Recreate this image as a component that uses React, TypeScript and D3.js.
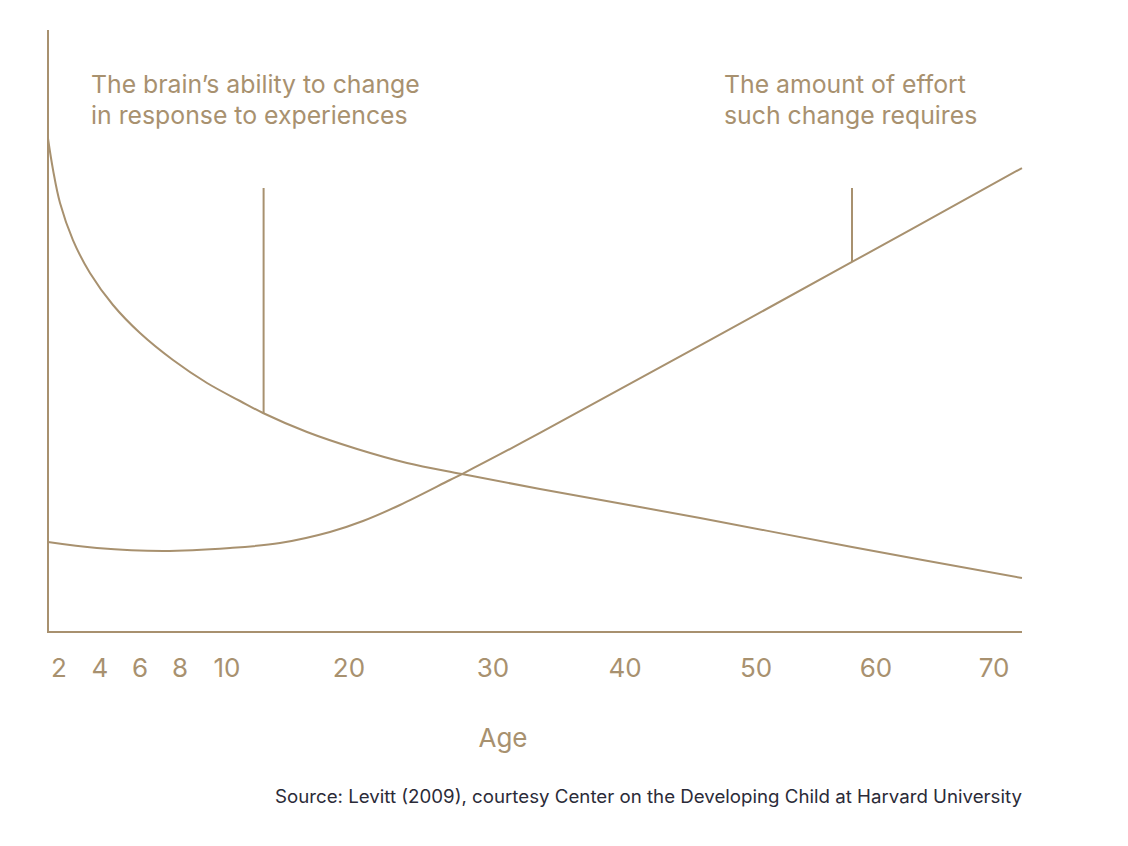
import React, { useEffect, useRef } from 'react';
import * as d3 from 'd3';

// Age ticks and where each sits along the (hand-drawn, uneven) age axis, px from axis start
const tickAges = [2, 4, 6, 8, 10, 20, 30, 40, 50, 60, 70];
const tickOffsets = [11, 52, 92, 132, 179, 301, 445, 577, 708, 828, 946];

// [age, relative level 0-100]
const plasticity: [number, number][] = [
  [1.46, 82.33], [1.71, 77.0], [2.05, 71.5], [2.68, 65.33], [3.51, 59.83], [4.65, 54.5],
  [6.0, 49.83], [7.65, 45.33], [9.15, 41.5], [11.07, 38.5], [12.95, 36.5], [16.56, 33.33],
  [20.56, 30.5], [24.03, 28.17], [27.85, 26.33], [33.56, 23.83], [45.73, 19.0], [58, 14.17],
  [72.37, 9.0],
];

const effort: [number, number][] = [
  [1.46, 15.0], [3.85, 14.0], [7.15, 13.5], [10.25, 14.0], [14.34, 14.83], [18.44, 16.67],
  [20.97, 18.5], [23.54, 21.17], [27.01, 25.33], [27.85, 26.33], [33.56, 33.17], [58, 61.67],
  [72.37, 77.33],
];

const annotations = [
  { age: 13, from: 74, series: plasticity, lines: ['The brain\u2019s ability to change', 'in response to experiences'], tx: 91 },
  { age: 58, from: 74, series: effort, lines: ['The amount of effort', 'such change requires'], tx: 724 },
];

const COLOR = '#a8916f';

const App: React.FC = () => {
  const svgRef = useRef<SVGSVGElement>(null);

  useEffect(() => {
    if (!svgRef.current) return;
    const svg = d3.select(svgRef.current);
    svg.selectAll('*').remove();

    const left = 48, right = 1022, top = 30, bottom = 632;

    const x = d3.scaleLinear()
      .domain(tickAges)
      .range(tickOffsets.map(o => left + o));
    const y = d3.scaleLinear().domain([0, 100]).range([bottom, bottom - 600]);

    const font = 'Inter, "Noto Sans", sans-serif';

    // axes
    svg.append('line')
      .attr('x1', left).attr('x2', left).attr('y1', top).attr('y2', bottom + 1)
      .attr('stroke', COLOR).attr('stroke-width', 2);
    svg.append('line')
      .attr('x1', left - 1).attr('x2', right).attr('y1', bottom).attr('y2', bottom)
      .attr('stroke', COLOR).attr('stroke-width', 2);

    svg.append('g')
      .selectAll('text')
      .data(tickAges)
      .enter().append('text')
      .attr('x', d => x(d))
      .attr('y', 677)
      .attr('text-anchor', 'middle')
      .style('font-family', font)
      .style('font-size', '26px')
      .style('fill', COLOR)
      .text(d => String(d));

    svg.append('text')
      .attr('x', 503).attr('y', 747)
      .attr('text-anchor', 'middle')
      .style('font-family', font)
      .style('font-size', '26px')
      .style('fill', COLOR)
      .text('Age');

    const line = d3.line<[number, number]>()
      .x(d => x(d[0]))
      .y(d => y(d[1]))
      .curve(d3.curveCatmullRom.alpha(0.5));

    [plasticity, effort].forEach(s => {
      svg.append('path')
        .datum(s)
        .attr('fill', 'none')
        .attr('stroke', COLOR)
        .attr('stroke-width', 2)
        .attr('d', line);
    });

    // annotation pointers + labels
    const bisect = d3.bisector((d: [number, number]) => d[0]).left;
    annotations.forEach(a => {
      const ax = x(a.age);
      const i = bisect(a.series, a.age);
      const p0 = a.series[i - 1], p1 = a.series[i];
      const t = (a.age - p0[0]) / (p1[0] - p0[0]);
      const v = p0[1] + t * (p1[1] - p0[1]);
      svg.append('line')
        .attr('x1', ax).attr('x2', ax)
        .attr('y1', y(a.from)).attr('y2', y(v))
        .attr('stroke', COLOR).attr('stroke-width', 2);
      const txt = svg.append('text')
        .style('font-family', font)
        .style('font-size', '24.8px')
        .style('fill', COLOR);
      a.lines.forEach((l, k) => {
        txt.append('tspan').attr('x', a.tx).attr('y', 93 + k * 31).text(l);
      });
    });

    svg.append('text')
      .attr('x', right).attr('y', 803)
      .attr('text-anchor', 'end')
      .attr('textLength', 747)
      .attr('lengthAdjust', 'spacingAndGlyphs')
      .style('font-family', font)
      .style('font-size', '18px')
      .style('fill', '#2b2b38')
      .text('Source: Levitt (2009), courtesy Center on the Developing Child at Harvard University');
  }, []);

  return (
    <svg
      ref={svgRef}
      width={1128}
      height={846}
      style={{ position: 'absolute', left: 0, top: 0, background: '#fff' }}
    />
  );
};

export default App;
